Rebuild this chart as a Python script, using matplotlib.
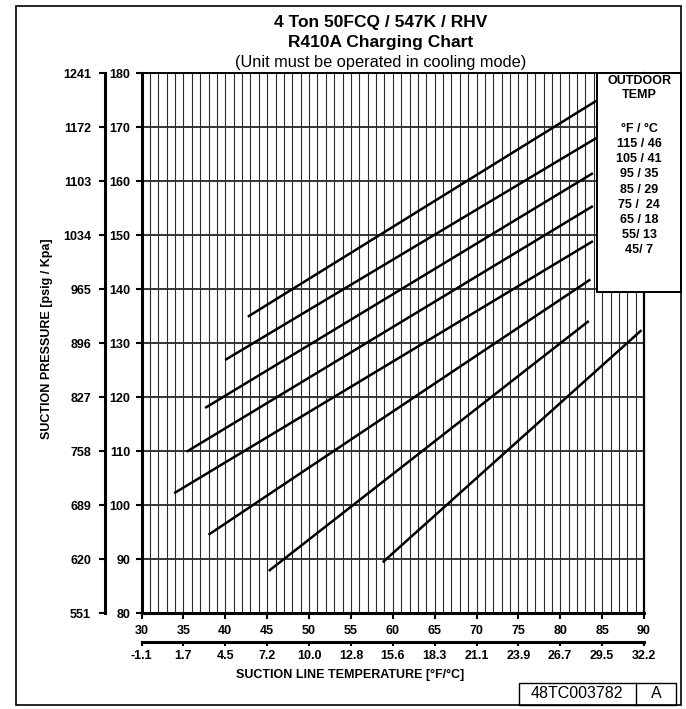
import matplotlib
matplotlib.use('Agg')
import matplotlib.pyplot as plt
from matplotlib.patches import Rectangle
from matplotlib.lines import Line2D
import numpy as np

plt.rcParams['font.family'] = ['Liberation Sans', 'DejaVu Sans']

W, H = 686, 709

# ---------------- data ----------------
temp_f_ticks = [30, 35, 40, 45, 50, 55, 60, 65, 70, 75, 80, 85, 90]
temp_c_labels = ['-1.1', '1.7', '4.5', '7.2', '10.0', '12.8', '15.6',
                 '18.3', '21.1', '23.9', '26.7', '29.5', '32.2']
psig_ticks = [80, 90, 100, 110, 120, 130, 140, 150, 160, 170, 180]
kpa_labels = ['551', '620', '689', '758', '827', '896', '965',
              '1034', '1103', '1172', '1241']
outdoor_labels = ['115 / 46', '105 / 41', '95 / 35', '85 / 29',
                  '75 /  24', '65 / 18', '55/ 13', '45/ 7']
# line end points: suction line temperature [F] and suction pressure [psig]
line_temp_f = [[42.7, 84.3], [40.0, 84.3], [37.6, 83.9], [35.4, 83.9],
               [33.9, 83.9], [38.0, 83.6], [45.2, 83.4], [58.8, 89.7]]
line_psig = [[134.9, 174.9], [126.9, 168.0], [118.0, 161.5], [109.9, 155.4],
             [102.2, 148.9], [94.5, 141.8], [87.8, 134.1], [89.4, 132.4]]
title_lines = ['4 Ton 50FCQ / 547K / RHV', 'R410A Charging Chart',
               '(Unit must be operated in cooling mode)']
doc_number = '48TC003782'
doc_rev = 'A'


def fx(px):
    return px / W


def fy(py):
    return 1 - py / H


fig = plt.figure(figsize=(W / 100, H / 100), dpi=100)
ax_l, ax_r, ax_t, ax_b = 141.5, 644.0, 73.3, 613.0
ax = fig.add_axes([fx(ax_l), fy(ax_b), (ax_r - ax_l) / W, (ax_b - ax_t) / H])

xmin, xmax = temp_f_ticks[0], temp_f_ticks[-1]
ymin, ymax = psig_ticks[0], psig_ticks[-1]
ax.set_xlim(xmin, xmax)
ax.set_ylim(ymin, ymax)

# grid
ax.vlines(np.arange(xmin + 1, xmax, 1), ymin, ymax, color='#2a2a2a',
          lw=0.8, zorder=1)
ax.hlines(psig_ticks[1:-1], xmin, xmax, color='#333333', lw=1.4, zorder=1)

# charging lines
for xs, ys in zip(line_temp_f, line_psig):
    ax.plot(xs, ys, color='black', lw=1.8, solid_capstyle='butt', zorder=3)

for side, lw in [('left', 2.2), ('bottom', 2.2), ('top', 1.4), ('right', 1.6)]:
    ax.spines[side].set_linewidth(lw)
    ax.spines[side].set_color('black')

ax.set_xticks(temp_f_ticks)
ax.set_yticks(psig_ticks)
ax.tick_params(axis='both', direction='out', length=4, width=1.5,
               labelsize=9, colors='black')
ax.tick_params(axis='x', pad=5)
ax.tick_params(axis='y', pad=4)
for lab in ax.get_xticklabels() + ax.get_yticklabels():
    lab.set_fontweight('bold')

# secondary kPa axis
sec_y = ax.secondary_yaxis((105 - ax_l) / (ax_r - ax_l),
                           functions=(lambda v: v, lambda v: v))
sec_y.set_yticks(psig_ticks, labels=kpa_labels)
sec_y.spines['left'].set_linewidth(2.2)
sec_y.tick_params(direction='out', length=4, width=1.5, labelsize=9, pad=6)
for lab in sec_y.get_yticklabels():
    lab.set_fontweight('bold')

# secondary Celsius axis
sec_x = ax.secondary_xaxis(-(642 - ax_b) / (ax_b - ax_t),
                           functions=(lambda v: v, lambda v: v))
sec_x.set_xticks(temp_f_ticks, labels=temp_c_labels)
sec_x.spines['bottom'].set_linewidth(2.2)
sec_x.tick_params(direction='out', length=3, width=1.5, labelsize=9, pad=3)
for lab in sec_x.get_xticklabels():
    lab.set_fontweight('bold')

# axis titles
fig.text(fx(47), fy(339), 'SUCTION PRESSURE [psig / Kpa]', rotation=90,
         ha='center', va='center', fontsize=9, fontweight='bold')
fig.text(fx(350.5), fy(675), 'SUCTION LINE TEMPERATURE [°F/°C]',
         ha='center', va='center', fontsize=9, fontweight='bold')

# titles
fig.text(fx(381), fy(22), title_lines[0], ha='center', va='center',
         fontsize=12.5, fontweight='bold')
fig.text(fx(381), fy(42), title_lines[1], ha='center', va='center',
         fontsize=12.5, fontweight='bold')
fig.text(fx(381), fy(63), title_lines[2], ha='center', va='center',
         fontsize=11.8)

# outer frame
fig.add_artist(Rectangle((fx(16), fy(705)), (681 - 16) / W, (705 - 6) / H,
                         transform=fig.transFigure, fill=False,
                         edgecolor='black', lw=1.2, zorder=5))

# legend box
fig.add_artist(Rectangle((fx(597), fy(292)), (681 - 597) / W, (292 - 73.3) / H,
                         transform=fig.transFigure, facecolor='white',
                         edgecolor='black', lw=1.4, zorder=4))
lx = 639
fig.text(fx(lx), fy(81), 'OUTDOOR', ha='center', va='center', fontsize=9,
         fontweight='bold', zorder=6)
fig.text(fx(lx), fy(94.5), 'TEMP', ha='center', va='center', fontsize=9,
         fontweight='bold', zorder=6)
fig.text(fx(lx), fy(128.5), '°F / °C', ha='center', va='center', fontsize=9,
         fontweight='bold', zorder=6)
for i, lab in enumerate(outdoor_labels):
    fig.text(fx(lx), fy(144 + 15.2 * i), lab, ha='center', va='center',
             fontsize=9, fontweight='bold', zorder=6)

# document number box
fig.add_artist(Rectangle((fx(518.5), fy(705)), (676 - 518.5) / W, (705 - 682.5) / H,
                         transform=fig.transFigure, fill=False,
                         edgecolor='black', lw=1.0, zorder=5))
fig.add_artist(Line2D([fx(636), fx(636)], [fy(682.5), fy(705)],
                      transform=fig.transFigure, color='black', lw=1.0,
                      zorder=5))
fig.text(fx(577), fy(694), doc_number, ha='center', va='center',
         fontsize=11.5, zorder=6)
fig.text(fx(656), fy(694), doc_rev, ha='center', va='center',
         fontsize=11.5, zorder=6)

fig.savefig('out.png', dpi=100, facecolor='white')
